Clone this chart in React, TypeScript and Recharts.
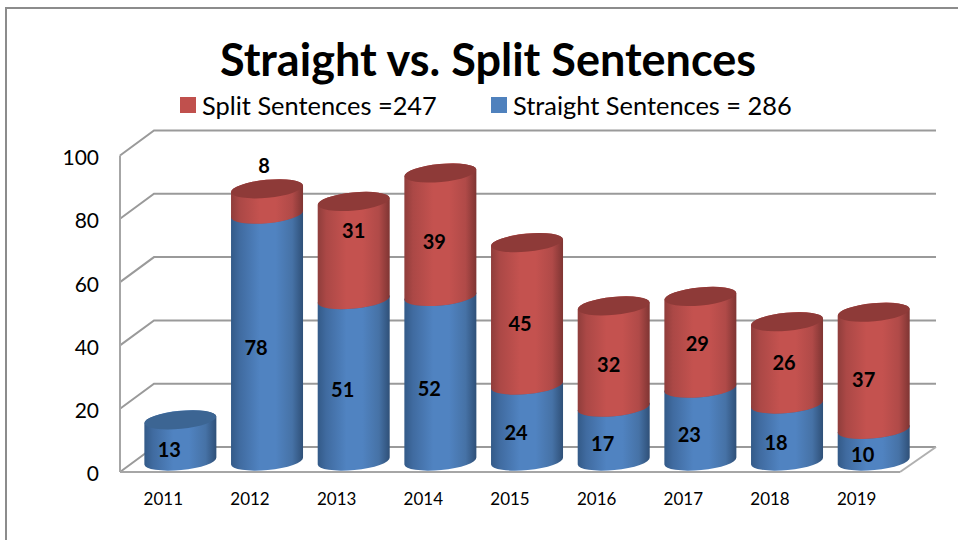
import React from "react";
import { BarChart, Bar, XAxis, YAxis, CartesianGrid, LabelList, Legend } from "recharts";

const years = ["2011", "2012", "2013", "2014", "2015", "2016", "2017", "2018", "2019"];
const straightValues = [13, 78, 51, 52, 24, 17, 23, 18, 10];
const splitValues = [null, 8, 31, 39, 45, 32, 29, 26, 37];
const yTicks = [0, 20, 40, 60, 80, 100];
const straightName = "Straight Sentences = 286";
const splitName = "Split Sentences =247";

// label nudges for the split series, they sit off-centre in the original
const splitLabelDx = [0, 14, 17, 11, 10, 12, 14, 14, 7];
const splitLabelDy = [0, -47, -32, -5, -2, -4, -10, -12, -3];

const chartData = years.map((year, i) => ({
  year,
  straight: straightValues[i],
  split: splitValues[i],
}));

const FONT = "Lato, sans-serif";
const SHIFT_X = 17;
const SHIFT_Y = -11;
const TILT = -5.5;
const RY = 9;

function Cylinder(props: any) {
  const { x, y, width, height, capColor, bodyFill } = props;
  if (!height || height <= 0) return null;
  const rx = width / 2;
  const cx = x + rx + SHIFT_X;
  const top = y + SHIFT_Y;
  const bottom = y + height + SHIFT_Y;
  const dy = rx * Math.sin((-TILT * Math.PI) / 180);
  const lx = cx - rx;
  const rxx = cx + rx;
  const d =
    `M${lx} ${top + dy} L${lx} ${bottom + dy} ` +
    `A${rx} ${RY} ${TILT} 0 0 ${rxx} ${bottom - dy} ` +
    `L${rxx} ${top - dy} A${rx} ${RY} ${TILT} 0 0 ${lx} ${top + dy} Z`;
  return (
    <g>
      <path d={d} fill={bodyFill} />
      <ellipse cx={cx} cy={top} rx={rx} ry={RY} fill={capColor} transform={`rotate(${TILT} ${cx} ${top})`} />
    </g>
  );
}

function GridLine(props: any) {
  const { x1, y1, x2 } = props;
  const isFloor = y1 > 470;
  return (
    <g>
      <path d={`M${x1} ${y1} L${x1 + 34} ${y1 - 25} L936 ${y1 - 25}`} fill="none" stroke="#9a9a9a" strokeWidth={2} />
      {isFloor && <path d={`M${x2} ${y1} L936 ${y1 - 25}`} fill="none" stroke="#b0b0b0" strokeWidth={2} />}
    </g>
  );
}

function StraightLabel(props: any) {
  const { x, y, width, height, value } = props;
  return (
    <text x={x + width / 2 + 6} y={y + height / 2 - 2} textAnchor="middle" dominantBaseline="central"
      fontFamily={FONT} fontWeight={700} fontSize={20} fill="#000">
      {value}
    </text>
  );
}

function SplitLabel(props: any) {
  const { x, y, width, height, value, index } = props;
  if (value == null) return null;
  return (
    <text x={x + width / 2 + splitLabelDx[index]} y={y + height / 2 + splitLabelDy[index]}
      textAnchor="middle" dominantBaseline="central" fontFamily={FONT} fontWeight={700} fontSize={20} fill="#000">
      {value}
    </text>
  );
}

function LegendRow() {
  const item = (label: string, color: string, left: number) => (
    <div style={{ position: "absolute", left, top: 0, display: "flex", alignItems: "center", whiteSpace: "nowrap" }}>
      <span style={{ width: 16, height: 16, background: color, marginRight: 6 }} />
      <span style={{ fontFamily: FONT, fontSize: 25.4, color: "#000", lineHeight: "30px" }}>{label}</span>
    </div>
  );
  return (
    <div style={{ position: "relative", width: 958, height: 30 }}>
      {item(splitName, "#c0504d", 180)}
      {item(straightName, "#4f81bd", 491)}
    </div>
  );
}

export default function App() {
  return (
    <div style={{ position: "absolute", left: 0, top: 0, width: 958, height: 540, background: "#fff", overflow: "hidden" }}>
      {/* frame, only top and left edges show in the original */}
      <div style={{ position: "absolute", left: 5, top: 7, width: 960, height: 540, border: "2px solid #8c8c8c" }} />
      <div style={{ position: "absolute", left: 0, width: 976, top: 32, textAlign: "center", fontFamily: FONT, fontWeight: 700, fontSize: 45, lineHeight: "54px", color: "#000" }}>
        Straight vs. Split Sentences
      </div>
      <BarChart width={958} height={540} data={chartData} barCategoryGap="8.5%"
        margin={{ top: 125.5, right: 58, bottom: 38, left: 60 }} style={{ position: "absolute", left: 0, top: 0 }}>
        <defs>
          <linearGradient id="blueBody" x1="0" y1="0" x2="1" y2="0">
            <stop offset="0%" stopColor="#335a88" />
            <stop offset="12%" stopColor="#406ba0" />
            <stop offset="40%" stopColor="#5083c1" />
            <stop offset="62%" stopColor="#5083c1" />
            <stop offset="85%" stopColor="#4672a6" />
            <stop offset="100%" stopColor="#2f5078" />
          </linearGradient>
          <linearGradient id="redBody" x1="0" y1="0" x2="1" y2="0">
            <stop offset="0%" stopColor="#8f3d3b" />
            <stop offset="12%" stopColor="#ab4846" />
            <stop offset="40%" stopColor="#c4524f" />
            <stop offset="62%" stopColor="#c4524f" />
            <stop offset="85%" stopColor="#b04a48" />
            <stop offset="100%" stopColor="#7f3533" />
          </linearGradient>
        </defs>
        <CartesianGrid vertical={false} horizontal={(p: any) => <GridLine key={p.key} {...p} />} />
        <XAxis dataKey="year" axisLine={{ stroke: "#a6a6a6", strokeWidth: 2 }} tickLine={false} height={30}
          tick={{ fontFamily: FONT, fontSize: 17, fill: "#000" }} tickMargin={15} interval={0} />
        <YAxis domain={[0, 100]} ticks={yTicks} width={60} axisLine={{ stroke: "#a6a6a6", strokeWidth: 2 }} tickLine={false}
          tick={{ fontFamily: FONT, fontSize: 21, fill: "#000", dy: 2 }} tickMargin={15} />
        <Legend content={() => <LegendRow />} verticalAlign="top"
          wrapperStyle={{ position: "absolute", left: 0, top: 90, width: 958 }} />
        <Bar dataKey="straight" name={straightName} stackId="a" isAnimationActive={false} fill="#4f81bd"
          shape={(p: any) => <Cylinder {...p} bodyFill="url(#blueBody)" capColor="#3c6593" />}>
          <LabelList dataKey="straight" content={<StraightLabel />} />
        </Bar>
        <Bar dataKey="split" name={splitName} stackId="a" isAnimationActive={false} fill="#c0504d"
          shape={(p: any) => <Cylinder {...p} bodyFill="url(#redBody)" capColor="#8e3a38" />}>
          <LabelList dataKey="split" content={<SplitLabel />} />
        </Bar>
      </BarChart>
    </div>
  );
}
